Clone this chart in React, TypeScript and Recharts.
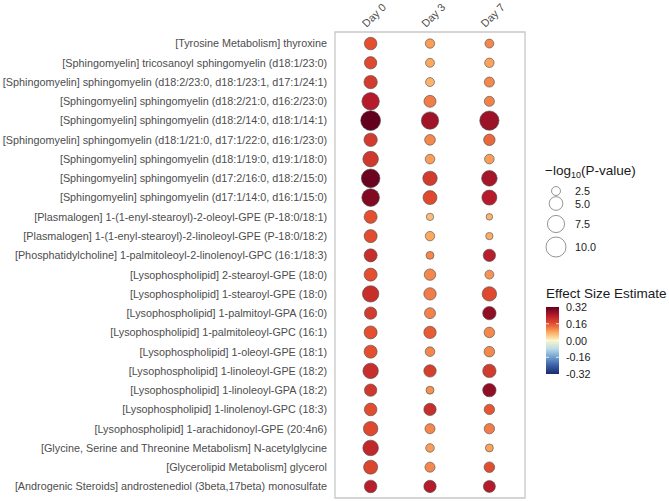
import React from "react";
import {
  ReferenceArea,
  Scatter,
  ScatterChart,
  XAxis,
  YAxis,
  ZAxis,
  Cell,
} from "recharts";

const metabolites = [
  "[Tyrosine Metabolism] thyroxine",
  "[Sphingomyelin] tricosanoyl sphingomyelin (d18:1/23:0)",
  "[Sphingomyelin] sphingomyelin (d18:2/23:0, d18:1/23:1, d17:1/24:1)",
  "[Sphingomyelin] sphingomyelin (d18:2/21:0, d16:2/23:0)",
  "[Sphingomyelin] sphingomyelin (d18:2/14:0, d18:1/14:1)",
  "[Sphingomyelin] sphingomyelin (d18:1/21:0, d17:1/22:0, d16:1/23:0)",
  "[Sphingomyelin] sphingomyelin (d18:1/19:0, d19:1/18:0)",
  "[Sphingomyelin] sphingomyelin (d17:2/16:0, d18:2/15:0)",
  "[Sphingomyelin] sphingomyelin (d17:1/14:0, d16:1/15:0)",
  "[Plasmalogen] 1-(1-enyl-stearoyl)-2-oleoyl-GPE (P-18:0/18:1)",
  "[Plasmalogen] 1-(1-enyl-stearoyl)-2-linoleoyl-GPE (P-18:0/18:2)",
  "[Phosphatidylcholine] 1-palmitoleoyl-2-linolenoyl-GPC (16:1/18:3)",
  "[Lysophospholipid] 2-stearoyl-GPE (18:0)",
  "[Lysophospholipid] 1-stearoyl-GPE (18:0)",
  "[Lysophospholipid] 1-palmitoyl-GPA (16:0)",
  "[Lysophospholipid] 1-palmitoleoyl-GPC (16:1)",
  "[Lysophospholipid] 1-oleoyl-GPE (18:1)",
  "[Lysophospholipid] 1-linoleoyl-GPE (18:2)",
  "[Lysophospholipid] 1-linoleoyl-GPA (18:2)",
  "[Lysophospholipid] 1-linolenoyl-GPC (18:3)",
  "[Lysophospholipid] 1-arachidonoyl-GPE (20:4n6)",
  "[Glycine, Serine and Threonine Metabolism] N-acetylglycine",
  "[Glycerolipid Metabolism] glycerol",
  "[Androgenic Steroids] androstenediol (3beta,17beta) monosulfate",
];

const days = ["Day 0", "Day 3", "Day 7"];

// -log10(P-value), one entry per metabolite (top to bottom)
const logPDay0 = [4.3, 4.2, 4.8, 7.7, 9.8, 4.8, 6.3, 8.7, 7.9, 4.6, 4.6, 4.6, 4.6, 6.9, 4.2, 4.6, 4.6, 6.2, 4.2, 4.35, 5.5, 6.3, 5.2, 4.35];
const logPDay3 = [2.7, 2.5, 2.5, 4.0, 7.7, 3.3, 2.8, 5.5, 5.2, 1.9, 2.7, 2.1, 3.7, 4.2, 3.45, 4.2, 2.8, 4.2, 2.1, 4.2, 3.0, 2.35, 3.0, 4.2];
const logPDay7 = [2.5, 2.7, 3.0, 3.0, 9.3, 3.7, 2.8, 6.3, 5.9, 1.65, 1.9, 4.2, 2.5, 5.5, 4.8, 3.25, 3.25, 4.8, 4.8, 3.15, 3.15, 2.1, 3.25, 4.0];

// effect size estimates
const effDay0 = [0.16, 0.17, 0.19, 0.24, 0.32, 0.19, 0.195, 0.31, 0.29, 0.16, 0.165, 0.21, 0.16, 0.21, 0.19, 0.16, 0.16, 0.21, 0.195, 0.165, 0.17, 0.22, 0.175, 0.235];
const effDay3 = [0.09, 0.08, 0.07, 0.12, 0.26, 0.11, 0.09, 0.19, 0.17, 0.06, 0.08, 0.11, 0.11, 0.12, 0.115, 0.15, 0.11, 0.185, 0.1, 0.21, 0.11, 0.09, 0.11, 0.24];
const effDay7 = [0.11, 0.085, 0.11, 0.115, 0.265, 0.14, 0.09, 0.255, 0.24, 0.07, 0.075, 0.235, 0.1, 0.17, 0.275, 0.11, 0.11, 0.19, 0.275, 0.155, 0.12, 0.085, 0.165, 0.24];

const sizeBreaks = [2.5, 5.0, 7.5, 10.0];
const colorBreaks = [0.32, 0.16, 0.0, -0.16, -0.32];

const colorStops: [number, string][] = [
  [-0.32, "#1b2a6b"],
  [-0.24, "#3b5ea8"],
  [-0.16, "#6f9fcd"],
  [-0.08, "#bcdbe9"],
  [0.0, "#fbf5c8"],
  [0.08, "#fca85e"],
  [0.16, "#e4502f"],
  [0.24, "#b51b2b"],
  [0.32, "#62001e"],
];

const FONT = "'Liberation Sans', Arial, sans-serif";
const Z_DOMAIN: [number, number] = [1, 11];
const Z_RANGE: [number, number] = [4 * Math.PI, 111 * Math.PI];

function hexToRgb(h: string) {
  const n = parseInt(h.slice(1), 16);
  return [(n >> 16) & 255, (n >> 8) & 255, n & 255];
}

function effectColor(v: number) {
  const c = Math.max(-0.32, Math.min(0.32, v));
  for (let i = 0; i < colorStops.length - 1; i++) {
    const [a, ca] = colorStops[i];
    const [b, cb] = colorStops[i + 1];
    if (c >= a && c <= b) {
      const t = (c - a) / (b - a);
      const ra = hexToRgb(ca);
      const rb = hexToRgb(cb);
      const m = ra.map((x, k) => Math.round(x + (rb[k] - x) * t));
      return `rgb(${m[0]},${m[1]},${m[2]})`;
    }
  }
  return colorStops[colorStops.length - 1][1];
}

// radius that the z axis gives for a value (for the legend keys)
function keyRadius(v: number) {
  const t = (v - Z_DOMAIN[0]) / (Z_DOMAIN[1] - Z_DOMAIN[0]);
  const area = Z_RANGE[0] + t * (Z_RANGE[1] - Z_RANGE[0]);
  return Math.sqrt(area / Math.PI);
}

const points = [logPDay0, logPDay3, logPDay7].flatMap((series, d) =>
  series.map((p, i) => ({
    x: d + 1,
    y: i + 1,
    z: p,
    eff: [effDay0, effDay3, effDay7][d][i],
  }))
);

const DayTick = (props: any) => {
  const { x, y, payload } = props;
  const tx = x - 4;
  const ty = y + 4;
  return (
    <text
      x={tx}
      y={ty}
      transform={`rotate(-45, ${tx}, ${ty})`}
      textAnchor="start"
      fontSize={10.85}
      fontFamily={FONT}
      fill="#4d4d4d"
    >
      {days[payload.value - 1]}
    </text>
  );
};

const MetaboliteTick = (props: any) => {
  const { x, y, payload } = props;
  return (
    <text
      x={x}
      y={y}
      dy="0.36em"
      textAnchor="end"
      fontSize={10.8}
      fontFamily={FONT}
      fill="#4d4d4d"
    >
      {metabolites[payload.value - 1]}
    </text>
  );
};

function Legends() {
  const keyY = [191, 203.5, 224, 247];
  const barTop = 307;
  const barBottom = 374;
  const barY = (v: number) => barTop + ((0.32 - v) / 0.64) * (barBottom - barTop);
  return (
    <svg
      width={140}
      height={260}
      style={{ position: "absolute", left: 529, top: 140 }}
      viewBox="529 140 140 260"
      fontFamily={FONT}
    >
      <defs>
        <linearGradient id="effGrad" x1="0" y1="1" x2="0" y2="0">
          {colorStops.map(([v, c]) => (
            <stop key={v} offset={`${((v + 0.32) / 0.64) * 100}%`} stopColor={c} />
          ))}
        </linearGradient>
      </defs>
      <text x={545} y={175} fontSize={13.5} fill="#1a1a1a">
        −log
        <tspan fontSize={9} dy={3}>10</tspan>
        <tspan dy={-3}>(P-value)</tspan>
      </text>
      {sizeBreaks.map((b, i) => (
        <g key={b}>
          <circle cx={556} cy={keyY[i]} r={keyRadius(b)} fill="none" stroke="#4d4d4d" strokeWidth={0.6} />
          <text x={575} y={keyY[i] + 4} fontSize={10.8} fill="#1a1a1a">
            {b.toFixed(1)}
          </text>
        </g>
      ))}
      <text x={546} y={298} fontSize={13.5} fill="#1a1a1a">
        Effect Size Estimate
      </text>
      <rect x={546} y={barTop} width={13} height={barBottom - barTop} fill="url(#effGrad)" />
      {colorBreaks.map((b) => (
        <g key={b}>
          {b !== 0.32 && b !== -0.32 && (
            <>
              <line x1={546} x2={549} y1={barY(b)} y2={barY(b)} stroke="#fff" strokeWidth={0.8} />
              <line x1={556} x2={559} y1={barY(b)} y2={barY(b)} stroke="#fff" strokeWidth={0.8} />
            </>
          )}
          <text x={566} y={barY(b) + 4} fontSize={10.8} fill="#1a1a1a">
            {b.toFixed(2)}
          </text>
        </g>
      ))}
    </svg>
  );
}

export default function App() {
  return (
    <div style={{ position: "absolute", left: 0, top: 0, width: 669, height: 501, background: "#fff", fontFamily: FONT }}>
      <ScatterChart width={669} height={501} margin={{ top: 0, right: 144, bottom: 3, left: 0 }}>
        <XAxis
          type="number"
          dataKey="x"
          orientation="top"
          domain={[0.4, 3.6]}
          ticks={[1, 2, 3]}
          height={32}
          axisLine={false}
          tickLine={false}
          interval={0}
          tick={<DayTick />}
        />
        <YAxis
          type="number"
          dataKey="y"
          domain={[0.4, 24.6]}
          reversed
          ticks={metabolites.map((_, i) => i + 1)}
          width={335}
          axisLine={false}
          tickLine={false}
          interval={0}
          tick={<MetaboliteTick />}
        />
        <ZAxis type="number" dataKey="z" domain={Z_DOMAIN} range={Z_RANGE} />
        <ReferenceArea
          x1={0.4}
          x2={3.6}
          y1={0.4}
          y2={24.6}
          fill="none"
          stroke="#c8c8c8"
          strokeWidth={1.3}
          ifOverflow="visible"
        />
        <Scatter data={points} stroke="#4d4d4d" strokeWidth={0.6} isAnimationActive={false}>
          {points.map((p, i) => (
            <Cell key={i} fill={effectColor(p.eff)} />
          ))}
        </Scatter>
      </ScatterChart>
      <Legends />
    </div>
  );
}
